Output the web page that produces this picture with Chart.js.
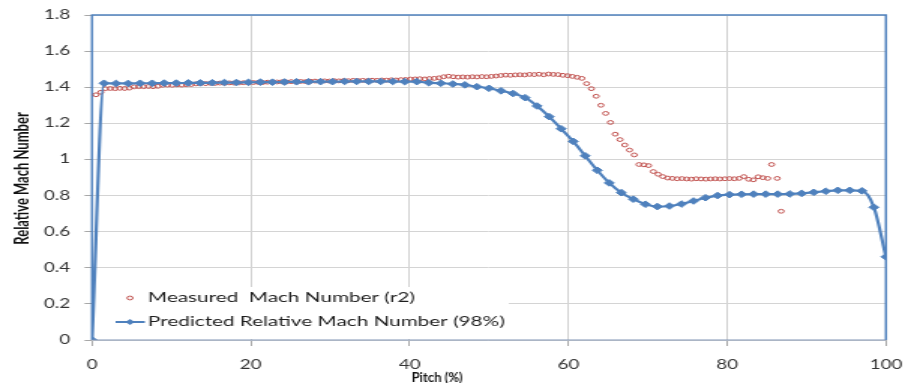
<!DOCTYPE html>
<html>
<head>
<meta charset="utf-8">
<script src="https://cdn.jsdelivr.net/npm/chart.js@4"></script>
<style>
  html, body { margin: 0; padding: 0; background: #fff; overflow: hidden; }
  /* the chart is laid out narrow and widened horizontally */
  #wrap { position: absolute; left: 0; top: 0; width: 603px; height: 383px;
          transform: scaleX(1.50083); transform-origin: 0 0; }
</style>
</head>
<body>
<div id="wrap"><canvas id="c"></canvas></div>
<script>
// Predicted relative Mach number across the pitch (CFD, 98% span)
const predictedPitch = [
  0, 1.52, 3.03, 4.55, 6.06, 7.58, 9.09, 10.61, 12.12, 13.64,
  15.15, 16.67, 18.18, 19.70, 21.21, 22.73, 24.24, 25.76, 27.27, 28.79,
  30.30, 31.82, 33.33, 34.85, 36.36, 37.88, 39.39, 40.91, 42.42, 43.94,
  45.45, 46.97, 48.48, 50.00, 51.52, 53.03, 54.55, 56.06, 57.58, 59.09,
  60.61, 62.12, 63.64, 65.15, 66.67, 68.18, 69.70, 71.21, 72.73, 74.24,
  75.76, 77.27, 78.79, 80.30, 81.82, 83.33, 84.85, 86.36, 87.88, 89.39,
  90.91, 92.42, 93.94, 95.45, 96.97, 98.48, 100
];
const predictedMach = [
  0, 1.422, 1.421, 1.421, 1.422, 1.422, 1.423, 1.423, 1.424, 1.424,
  1.425, 1.426, 1.426, 1.427, 1.428, 1.428, 1.429, 1.430, 1.430, 1.431,
  1.431, 1.432, 1.432, 1.432, 1.432, 1.432, 1.431, 1.431, 1.425, 1.422,
  1.418, 1.413, 1.403, 1.394, 1.380, 1.365, 1.342, 1.296, 1.237, 1.170,
  1.100, 1.020, 0.940, 0.870, 0.816, 0.780, 0.752, 0.739, 0.742, 0.753,
  0.770, 0.788, 0.800, 0.805, 0.807, 0.808, 0.808, 0.808, 0.809, 0.812,
  0.818, 0.824, 0.829, 0.829, 0.826, 0.735, 0.461
];

// Measured Mach number (probe traverse r2)
const measuredPitch = [
  0.5, 1.1, 1.7, 2.3, 2.9, 3.5, 4.1, 4.7, 5.3, 5.9,
  6.5, 7.1, 7.7, 8.3, 8.9, 9.5, 10.1, 10.7, 11.3, 11.9,
  12.5, 13.1, 13.7, 14.3, 14.9, 15.5, 16.1, 16.7, 17.3, 17.9,
  18.5, 19.1, 19.7, 20.3, 20.9, 21.5, 22.1, 22.7, 23.3, 23.9,
  24.5, 25.1, 25.7, 26.3, 26.9, 27.5, 28.1, 28.7, 29.3, 29.9,
  30.5, 31.1, 31.7, 32.3, 32.9, 33.5, 34.1, 34.7, 35.3, 35.9,
  36.5, 37.1, 37.7, 38.3, 38.9, 39.5, 40.1, 40.7, 41.3, 41.9,
  42.5, 43.1, 43.7, 44.3, 44.9, 45.5, 46.1, 46.7, 47.3, 47.9,
  48.5, 49.1, 49.7, 50.3, 50.9, 51.5, 52.1, 52.7, 53.3, 53.9,
  54.5, 55.1, 55.7, 56.3, 56.9, 57.5, 58.1, 58.7, 59.3, 59.9,
  60.5, 61.1, 61.7, 62.3, 62.9, 63.5, 64.1, 64.7, 65.3, 65.9,
  66.5, 67.1, 67.7, 68.3, 68.9, 69.5, 70.1, 70.7, 71.3, 71.9,
  72.5, 73.1, 73.7, 74.3, 74.9, 75.5, 76.1, 76.7, 77.3, 77.9,
  78.5, 79.1, 79.7, 80.3, 80.9, 81.5, 82.1, 82.7, 83.3, 83.9,
  84.5, 85.1, 85.6, 86.3, 86.8
];
const measuredMach = [
  1.358, 1.372, 1.392, 1.393, 1.392, 1.394, 1.393, 1.395, 1.402, 1.403,
  1.403, 1.404, 1.403, 1.405, 1.411, 1.412, 1.411, 1.413, 1.412, 1.414,
  1.415, 1.419, 1.421, 1.420, 1.422, 1.421, 1.423, 1.422, 1.424, 1.423,
  1.424, 1.425, 1.424, 1.426, 1.427, 1.426, 1.428, 1.427, 1.429, 1.430,
  1.429, 1.431, 1.430, 1.432, 1.431, 1.433, 1.434, 1.433, 1.435, 1.434,
  1.436, 1.435, 1.437, 1.436, 1.438, 1.437, 1.438, 1.437, 1.439, 1.438,
  1.440, 1.439, 1.441, 1.440, 1.442, 1.443, 1.445, 1.446, 1.447, 1.446,
  1.448, 1.449, 1.452, 1.458, 1.461, 1.458, 1.456, 1.457, 1.456, 1.458,
  1.457, 1.459, 1.458, 1.460, 1.462, 1.465, 1.467, 1.466, 1.468, 1.469,
  1.468, 1.471, 1.470, 1.472, 1.469, 1.473, 1.471, 1.470, 1.466, 1.464,
  1.460, 1.455, 1.449, 1.420, 1.392, 1.350, 1.300, 1.255, 1.205, 1.140,
  1.110, 1.080, 1.052, 1.025, 0.972, 0.970, 0.966, 0.933, 0.918, 0.905,
  0.897, 0.895, 0.893, 0.894, 0.892, 0.891, 0.893, 0.892, 0.891, 0.892,
  0.893, 0.892, 0.893, 0.894, 0.893, 0.895, 0.905, 0.890, 0.887, 0.904,
  0.899, 0.895, 0.972, 0.895, 0.713
];

const xTickLabels = ['0', '20', '40', '60', '80', '100'];
const yTickLabels = ['0', '0.2', '0.4', '0.6', '0.8', '1', '1.2', '1.4', '1.6', '1.8'];
const seriesNames = ['Measured  Mach Number (r2)', 'Predicted Relative Mach Number (98%)'];
const xTitle = 'Pitch (%)';
const yTitle = 'Relative Mach Number';

const RED = '#c0504d';
const BLUE = '#4f81bd';
const FONT = 'Lato, "Open Sans", sans-serif';

const toPoints = (xs, ys) => xs.map((x, i) => ({ x: x, y: ys[i] }));

// plot frame, axis titles and the boxed legend inside the plot
const decorations = {
  id: 'decorations',
  beforeDatasetsDraw(chart) {
    const { ctx, chartArea: a } = chart;
    ctx.save();
    // legend box hides the grid behind it
    ctx.fillStyle = '#ffffff';
    ctx.fillRect(a.left + 1, 287, 338 - a.left, a.bottom - 287 - 1);
    // frame
    ctx.strokeStyle = BLUE;
    ctx.lineWidth = 1.5;
    ctx.beginPath();
    ctx.moveTo(a.left, a.bottom);
    ctx.lineTo(a.left, a.top);
    ctx.lineTo(a.right, a.top);
    ctx.lineTo(a.right, a.bottom);
    ctx.stroke();
    ctx.restore();
  },
  afterDatasetsDraw(chart) {
    const { ctx, chartArea: a } = chart;
    ctx.save();
    ctx.font = '13.8px ' + FONT;
    ctx.fillStyle = '#1e1e1e';
    ctx.textAlign = 'left';
    ctx.textBaseline = 'middle';
    // measured entry
    ctx.strokeStyle = RED;
    ctx.lineWidth = 1;
    ctx.beginPath();
    ctx.arc(86.6, 298, 1.9, 0, Math.PI * 2);
    ctx.stroke();
    ctx.fillText(seriesNames[0], 98.6, 298);
    // predicted entry
    ctx.strokeStyle = BLUE;
    ctx.lineWidth = 2;
    ctx.beginPath();
    ctx.moveTo(77, 322);
    ctx.lineTo(96.5, 322);
    ctx.stroke();
    ctx.fillStyle = BLUE;
    ctx.beginPath();
    ctx.moveTo(86.6, 319);
    ctx.lineTo(89.6, 322);
    ctx.lineTo(86.6, 325);
    ctx.lineTo(83.6, 322);
    ctx.closePath();
    ctx.fill();
    ctx.fillStyle = '#1e1e1e';
    ctx.fillText(seriesNames[1], 98.6, 322);
    // bottom axis line
    ctx.strokeStyle = '#8196b5';
    ctx.lineWidth = 1.2;
    ctx.beginPath();
    ctx.moveTo(a.left, a.bottom);
    ctx.lineTo(a.right, a.bottom);
    ctx.stroke();
    // axis titles
    ctx.fillStyle = '#111111';
    ctx.textAlign = 'center';
    ctx.save();
    ctx.translate(291.2, 377.5);
    ctx.scale(0.7, 1);
    ctx.font = 'bold 12.5px ' + FONT;
    ctx.fillText(xTitle, 0, 0);
    ctx.restore();
    ctx.translate(14.7, (a.top + a.bottom) / 2 + 1);
    ctx.rotate(-Math.PI / 2);
    ctx.font = 'bold 13px ' + FONT;
    ctx.fillText(yTitle, 0, 0);
    ctx.restore();
  }
};

new Chart(document.getElementById('c'), {
  type: 'scatter',
  data: {
    datasets: [
      {
        label: seriesNames[0],
        data: toPoints(measuredPitch, measuredMach),
        showLine: false,
        pointStyle: 'circle',
        pointRadius: 1.9,
        pointBorderWidth: 1,
        pointBorderColor: RED,
        pointBackgroundColor: 'rgba(255,255,255,0)',
        order: 2
      },
      {
        label: seriesNames[1],
        data: toPoints(predictedPitch, predictedMach),
        showLine: true,
        borderColor: BLUE,
        borderWidth: 2.2,
        cubicInterpolationMode: 'monotone',
        pointStyle: 'rectRot',
        pointRadius: 3.3,
        pointBorderWidth: 1,
        pointBorderColor: BLUE,
        pointBackgroundColor: BLUE,
        order: 1
      }
    ]
  },
  options: {
    responsive: true,
    maintainAspectRatio: false,
    animation: false,
    events: [],
    layout: { padding: { top: 15, right: 12.7, bottom: 0, left: 0 } },
    plugins: { legend: { display: false }, tooltip: { enabled: false } },
    scales: {
      x: {
        type: 'linear',
        min: 0,
        max: 100,
        afterFit: s => { s.height = 43; s.paddingLeft = 0; s.paddingRight = 0; },
        ticks: {
          stepSize: 20,
          callback: v => xTickLabels[Math.round(v / 20)],
          font: { family: FONT, size: 12.5 },
          color: '#333333',
          padding: 11,
          maxRotation: 0
        },
        grid: { color: '#d0d0d0', lineWidth: 1, tickColor: '#a8a8a8', tickLength: 6 },
        border: { display: false }
      },
      y: {
        min: 0,
        max: 1.8,
        afterFit: s => { s.width = 61.3; s.paddingTop = 0; s.paddingBottom = 0; },
        ticks: {
          stepSize: 0.2,
          callback: v => yTickLabels[Math.round(v / 0.2)],
          font: { family: FONT, size: 12.5 },
          color: '#333333',
          padding: 9.5
        },
        grid: { color: '#d4d4d4', lineWidth: 1, tickColor: '#a8a8a8', tickLength: 5 },
        border: { display: false }
      }
    }
  },
  plugins: [decorations]
});
</script>
</body>
</html>
